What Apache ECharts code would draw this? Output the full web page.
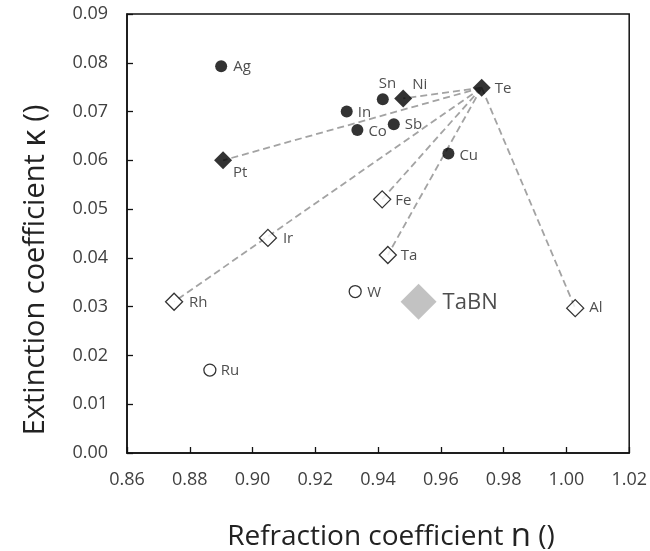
<!DOCTYPE html>
<html>
<head>
<meta charset="utf-8">
<script src="https://cdn.jsdelivr.net/npm/echarts@6/dist/echarts.min.js"></script>
<style>html,body{margin:0;padding:0;background:#fff}#c{width:650px;height:551px}</style>
</head>
<body>
<div id="c"></div>
<script>
// ---- data (n = refraction coefficient, k = extinction coefficient) ----
const filledCircleNames = ['Ag', 'Sn', 'In', 'Co', 'Sb', 'Cu'];
const filledCircleN = [0.890, 0.9415, 0.930, 0.9334, 0.945, 0.9624];
const filledCircleK = [0.0793, 0.0725, 0.0700, 0.0662, 0.0674, 0.0614];

const filledDiamondNames = ['Pt', 'Ni', 'Te'];
const filledDiamondN = [0.8906, 0.948, 0.973];
const filledDiamondK = [0.0600, 0.0727, 0.0749];

const openDiamondNames = ['Fe', 'Ir', 'Ta', 'Rh', 'Al'];
const openDiamondN = [0.9413, 0.9049, 0.9431, 0.875, 1.0028];
const openDiamondK = [0.0520, 0.0441, 0.0406, 0.0310, 0.0297];

const openCircleNames = ['W', 'Ru'];
const openCircleN = [0.9327, 0.8864];
const openCircleK = [0.0331, 0.0170];

const tabnNames = ['TaBN'];
const tabnN = [0.9529];
const tabnK = [0.0310];

const linkHub = 'Te';
const linkTargets = ['Ni', 'Pt', 'Rh', 'Fe', 'Ta', 'Al'];

const xTicks = ['0.86', '0.88', '0.90', '0.92', '0.94', '0.96', '0.98', '1.00', '1.02'];
const yTicks = ['0.00', '0.01', '0.02', '0.03', '0.04', '0.05', '0.06', '0.07', '0.08', '0.09'];

// ---- styling (label offsets from marker centre, px) ----
const labelOffset = {
  Ag: [12, 1], Sn: [-4, -16], Ni: [9, -14], Te: [13, 1], In: [11, 1], Co: [11, 2],
  Sb: [11, 0], Cu: [11, 2], Pt: [10, 12], Fe: [13, 1], Ir: [15, 1], Ta: [13, 1],
  Rh: [15, 1], Al: [14, 0], W: [12, 1], Ru: [11, 1], TaBN: [24, 1]
};
const FONT = 'Open Sans';

const lookup = {};
function register(names, ns, ks) { names.forEach((nm, i) => lookup[nm] = [ns[i], ks[i]]); }
register(filledCircleNames, filledCircleN, filledCircleK);
register(filledDiamondNames, filledDiamondN, filledDiamondK);
register(openDiamondNames, openDiamondN, openDiamondK);
register(openCircleNames, openCircleN, openCircleK);
register(tabnNames, tabnN, tabnK);

function pts(names, ns, ks, fontSize) {
  return names.map((nm, i) => ({
    name: nm,
    value: [ns[i], ks[i]],
    label: {
      show: true, formatter: nm, position: 'inside', align: 'left', verticalAlign: 'middle',
      offset: labelOffset[nm], fontSize: fontSize || 15, fontFamily: FONT, color: '#222'
    }
  }));
}

const series = [];
linkTargets.forEach(t => {
  series.push({
    type: 'line', data: [lookup[linkHub], lookup[t]], symbol: 'none', silent: true, z: 1,
    lineStyle: { color: '#a3a3a3', width: 1.8, type: [7, 4] }
  });
});
series.push({
  type: 'scatter', z: 3, symbol: 'circle', symbolSize: 12,
  itemStyle: { color: '#000' }, data: pts(filledCircleNames, filledCircleN, filledCircleK)
});
series.push({
  type: 'scatter', z: 3, symbol: 'diamond', symbolSize: 18,
  itemStyle: { color: '#000' }, data: pts(filledDiamondNames, filledDiamondN, filledDiamondK)
});
series.push({
  type: 'scatter', z: 3, symbol: 'diamond', symbolSize: 17,
  itemStyle: { color: '#fff', borderColor: '#000', borderWidth: 1.3 },
  data: pts(openDiamondNames, openDiamondN, openDiamondK)
});
series.push({
  type: 'scatter', z: 3, symbol: 'circle', symbolSize: 12,
  itemStyle: { color: '#fff', borderColor: '#000', borderWidth: 1.3 },
  data: pts(openCircleNames, openCircleN, openCircleK)
});
series.push({
  type: 'scatter', z: 3, symbol: 'diamond', symbolSize: 36,
  itemStyle: { color: '#b3b3b3' }, data: pts(tabnNames, tabnN, tabnK, 22)
});

const chart = echarts.init(document.getElementById('c'), null, { renderer: 'canvas' });
chart.setOption({
  animation: false,
  backgroundColor: '#fff',
  grid: { left: 127, right: 20, top: 14, bottom: 98, show: true, borderColor: '#111', borderWidth: 1.5, backgroundColor: 'transparent' },
  xAxis: {
    type: 'value', min: 0.86, max: 1.02, interval: 0.02,
    axisLine: { show: true, onZero: false, lineStyle: { color: '#111', width: 1.5 } },
    axisTick: { show: true, inside: true, length: 6, lineStyle: { color: '#111', width: 1.3 } },
    axisLabel: { margin: 18, fontSize: 18, fontFamily: FONT, color: '#404040',
      formatter: v => xTicks[Math.round((v - 0.86) / 0.02)] },
    splitLine: { show: false }
  },
  yAxis: {
    type: 'value', min: 0, max: 0.09, interval: 0.01,
    axisLine: { show: true, onZero: false, lineStyle: { color: '#111', width: 1.5 } },
    axisTick: { show: true, inside: true, length: 6, lineStyle: { color: '#111', width: 1.3 } },
    axisLabel: { margin: 19, fontSize: 18, fontFamily: FONT, color: '#404040',
      formatter: v => yTicks[Math.round(v / 0.01)] },
    splitLine: { show: false }
  },
  graphic: [
    {
      type: 'text', x: 36, y: 270, rotation: Math.PI / 2, silent: true,
      style: {
        text: 'Extinction coefficient {k|κ} ()', align: 'center', verticalAlign: 'middle',
        font: '29px "Open Sans"', fill: '#222',
        rich: { k: { fontSize: 33, fontFamily: FONT, fill: '#222' } }
      }
    },
    {
      type: 'text', x: 391, y: 537, silent: true,
      style: {
        text: 'Refraction coefficient {n|n} ()', align: 'center', verticalAlign: 'middle',
        font: '28px "Open Sans"', fill: '#222',
        rich: { n: { fontSize: 33, fontFamily: FONT, fill: '#222' } }
      }
    }
  ],
  series: series
});
</script>
</body>
</html>
